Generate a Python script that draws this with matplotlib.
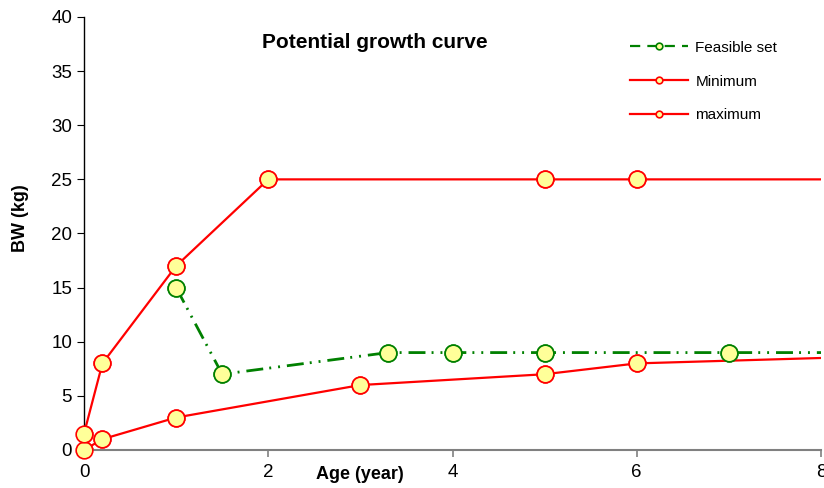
import matplotlib

matplotlib.use('agg')
import matplotlib.pyplot as plt

plt.rcParams['font.family'] = ['Liberation Sans', 'DejaVu Sans']

# data
feasible_age = [1, 1.5, 3.3, 4, 5, 7, 10]
feasible_bw = [15, 7, 9, 9, 9, 9, 9]
min_age = [0, 0.2, 1, 3, 5, 6, 10]
min_bw = [0, 1, 3, 6, 7, 8, 9]
max_age = [0, 0.2, 1, 2, 5, 6, 10]
max_bw = [1.5, 8, 17, 25, 25, 25, 25]
x_ticks = [0, 2, 4, 6, 8]
y_ticks = [0, 5, 10, 15, 20, 25, 30, 35, 40]

fill = '#ffff99'
x_max = 8

fig = plt.figure(figsize=(8.24, 4.88), dpi=100)
ax = fig.add_axes([84 / 824, 38 / 488, 737 / 824, 433 / 488])

series = [
    (feasible_age, feasible_bw, '#008000', 2, (0, (6.1, 2.2, 0.7, 2.5, 0.7, 2.5)), 'Feasible set'),
    (min_age, min_bw, 'red', 1.6, '-', 'Minimum'),
    (max_age, max_bw, 'red', 1.6, '-', 'maximum'),
]
for xs, ys, col, lw, ls, lab in series:
    ax.plot(xs, ys, color=col, lw=lw, linestyle=ls, marker='o', markersize=12,
            markerfacecolor=fill, markeredgecolor=col, markeredgewidth=1.2, label=lab)
    # markers on the axes edges should not be cut
    px = [x for x in xs if x <= x_max]
    py = [y for x, y in zip(xs, ys) if x <= x_max]
    ax.plot(px, py, linestyle='none', marker='o', markersize=12,
            markerfacecolor=fill, markeredgecolor=col, markeredgewidth=1.2,
            clip_on=False, zorder=3)

ax.set_xlim(0, x_max)
ax.set_ylim(0, 40)
ax.set_xticks(x_ticks)
ax.set_yticks(y_ticks)
ax.tick_params(axis='both', labelsize=13.5, length=5, direction='out')
ax.tick_params(axis='x', color='#808080', width=1.2, pad=5)

ax.spines['top'].set_visible(False)
ax.spines['right'].set_visible(False)
ax.spines['bottom'].set_color('#808080')
ax.spines['bottom'].set_linewidth(1.5)
ax.spines['left'].set_linewidth(1)

ax.set_xlabel('Age (year)', fontsize=13, fontweight='bold')
ax.xaxis.set_label_coords(0.375, -0.038)
ax.set_ylabel('BW (kg)', fontsize=13, fontweight='bold')
ax.yaxis.set_label_coords(-0.074, 0.535)

ax.text(0.395, 0.94, 'Potential growth curve', transform=ax.transAxes,
        fontsize=15, fontweight='bold', ha='center', va='center')

leg = ax.legend(loc='upper left', bbox_to_anchor=(622 / 824, 455 / 488),
                bbox_transform=fig.transFigure, frameon=False, fontsize=11,
                markerscale=0.4, handlelength=3.8, labelspacing=1.3,
                borderpad=0, handletextpad=0.5)
leg.get_lines()[0].set_linestyle((0, (4.6, 3.2, 4.6, 3.2)))
leg.get_lines()[0].set_linewidth(1.6)

fig.savefig('out.png', dpi=100)
